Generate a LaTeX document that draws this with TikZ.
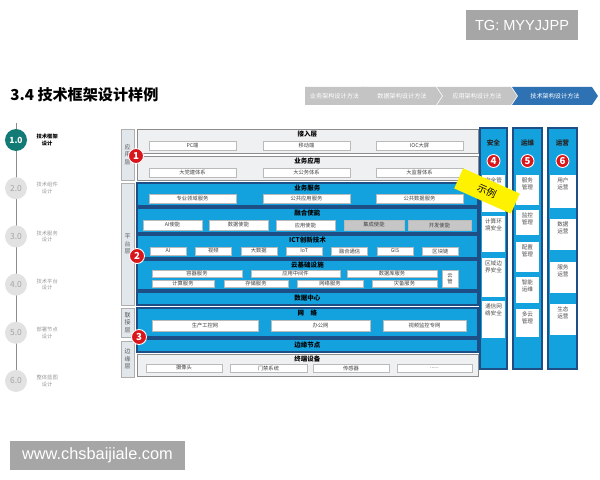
\documentclass[tikz,border=0pt]{standalone}
\usepackage{fontspec}
\setmainfont{Noto Sans CJK SC}
\newfontfamily\arialfont{Liberation Sans}
\usetikzlibrary{positioning,shapes.symbols}

\definecolor{bandblue}{HTML}{14A2DF}
\definecolor{edgeblue}{HTML}{1D4F86}
\definecolor{bandgray}{HTML}{EEF0F2}
\definecolor{edgegray}{HTML}{8C8C8C}
\definecolor{sidegray}{HTML}{E2E7EC}
\definecolor{boxgray}{HTML}{C6C6C6}
\definecolor{markred}{HTML}{D9161C}
\definecolor{tealstep}{HTML}{137B75}
\definecolor{stepgray}{HTML}{E2E2E2}
\definecolor{crumbgray}{HTML}{C4C4C4}
\definecolor{crumbblue}{HTML}{2F72B3}
\definecolor{markgray}{HTML}{A6A6A6}

\def\px{0.02cm}
% box from (x1,y1) to (x2,y2) in pixels
\newcommand{\rbox}[7]{\node[#2, minimum width={(#5-#3)*\px}, minimum height={(#6-#4)*\px}] (#1) at ({(#3+#5)/2},{(#4+#6)/2}) {#7};}

\tikzset{
  markbox/.style={fill=markgray, text=white, inner sep=0pt},
  crumb/.style={signal, signal to=east, signal from=west, signal pointer angle=112,
    fill=crumbgray, text=white, inner sep=0pt, font=\fontsize{3.5}{3.8}\selectfont},
  timeline/.style={draw=black!45, line width=0.55pt},
  stepdot/.style={circle, fill=stepgray, text=black!35, inner sep=0pt,
    minimum size=22*\px, font=\fontsize{4.8}{5}\selectfont},
  steptext/.style={align=center, inner sep=0pt, text=black!40, font=\fontsize{3}{3.7}\selectfont},
  sidelabel/.style={draw=edgegray!70, fill=sidegray, inner sep=0pt, align=center,
    text=black!65, font=\fontsize{3.4}{4.2}\selectfont},
  grayband/.style={draw=edgegray, fill=bandgray, line width=0.45pt, inner sep=0pt},
  blueband/.style={draw=edgeblue, fill=bandblue, line width=0.6pt, inner sep=0pt},
  bandtitle/.style={anchor=north, inner sep=1pt, text=black, font=\bfseries\fontsize{3.7}{4}\selectfont},
  whitebox/.style={draw=edgegray!60, fill=white, line width=0.3pt, inner sep=0pt, align=center,
    text=black!75, font=\fontsize{3}{3.5}\selectfont},
  greybox/.style={whitebox, fill=boxgray},
  column/.style={draw=edgeblue, fill=bandblue, line width=0.6pt, inner sep=0pt},
  coltitle/.style={inner sep=0pt, text=black!85, font=\bfseries\fontsize{3.8}{4}\selectfont},
  colbox/.style={fill=white, inner sep=0pt},
  coltext/.style={anchor=north, align=center, inner sep=1.6pt, text=black!70, font=\fontsize{3.2}{3.9}\selectfont},
  redmark/.style={circle, fill=markred, draw=white, line width=0.5pt, inner sep=0pt,
    minimum size=15*\px, text=white, font=\bfseries\fontsize{5.5}{6}\selectfont},
  banner/.style={fill=yellow, inner sep=0pt, minimum width=62*\px, minimum height=22*\px,
    font=\fontsize{5.6}{6}\selectfont}
}

\begin{document}
\begin{tikzpicture}[x=0.02cm,y=-0.02cm]
\useasboundingbox[fill=white] (0,0) rectangle (600,480);

% header
\rbox{tg}{markbox, font=\arialfont\fontsize{8.3}{9}\selectfont}{466}{10}{578}{40}{TG: MYYJJPP}
\node[anchor=west, inner sep=0pt, font=\bfseries\fontsize{8.6}{10}\selectfont] (title) at (10,95) {3.4 技术框架设计样例};
\rbox{crumb1}{crumb, signal from=nowhere}{302}{87}{367}{105}{业务架构设计方法}
\rbox{crumb2}{crumb}{362}{87}{442}{105}{数据架构设计方法}
\rbox{crumb3}{crumb}{437}{87}{517}{105}{应用架构设计方法}
\rbox{crumb4}{crumb, fill=crumbblue}{512}{87}{598}{105}{技术架构设计方法}

% steps
\coordinate (tltop) at (16,123);
\coordinate (tlbot) at (16,392);
\draw[timeline] (tltop) -- (tlbot);
\node[stepdot, fill=tealstep, text=white, font=\bfseries\fontsize{4.8}{5}\selectfont] (s1) at (16,140) {1.0};
\node[stepdot, below=0.51cm of s1] (s2) {2.0};
\node[stepdot, below=0.51cm of s2] (s3) {3.0};
\node[stepdot, below=0.51cm of s3] (s4) {4.0};
\node[stepdot, below=0.51cm of s4] (s5) {5.0};
\node[stepdot, below=0.51cm of s5] (s6) {6.0};
\node[steptext, text=black, font=\bfseries\fontsize{3}{3.7}\selectfont, right=0.18cm of s1] (s1t) {技术框架\\设计};
\node[steptext, right=0.18cm of s2] (s2t) {技术组件\\设计};
\node[steptext, right=0.18cm of s3] (s3t) {技术服务\\设计};
\node[steptext, right=0.18cm of s4] (s4t) {技术平台\\设计};
\node[steptext, right=0.18cm of s5] (s5t) {部署节点\\设计};
\node[steptext, right=0.18cm of s6] (s6t) {整体蓝图\\设计};

% layer labels
\rbox{lapp}{sidelabel}{121}{129}{134}{180}{应\\用\\层}
\rbox{lplat}{sidelabel}{121}{183}{134}{305}{平\\台\\层}
\rbox{llink}{sidelabel}{121}{308}{134}{337}{联\\接\\层}
\rbox{ledge}{sidelabel}{121}{341}{134}{377}{边\\缘\\层}

% application layer
\rbox{access}{grayband, label={[bandtitle]north:接入层}}{137}{129}{478}{153}{}
\rbox{pc}{whitebox}{149}{141}{236}{150}{PC端}
\rbox{mobile}{whitebox}{263}{141}{350}{150}{移动端}
\rbox{ioc}{whitebox}{376}{141}{463}{150}{IOC大屏}
\rbox{bizapp}{grayband, label={[bandtitle]north:业务应用}}{137}{156}{478}{180}{}
\rbox{party}{whitebox}{149}{168}{236}{177}{大党建体系}
\rbox{affair}{whitebox}{263}{168}{350}{177}{大公务体系}
\rbox{super}{whitebox}{376}{168}{463}{177}{大监督体系}

% platform layer
\rbox{bizsvc}{blueband, label={[bandtitle]north:业务服务}}{137}{183}{478}{206}{}
\rbox{domain}{whitebox}{149}{194}{236}{203}{专业领域服务}
\rbox{pubapp}{whitebox}{263}{194}{350}{203}{公共应用服务}
\rbox{pubdata}{whitebox}{376}{194}{463}{203}{公共数据服务}
\rbox{enable}{blueband, label={[bandtitle]north:融合使能}}{137}{208}{478}{233}{}
\rbox{aien}{whitebox}{143}{220}{202}{230}{AI使能}
\rbox{dataen}{whitebox}{209}{220}{268}{230}{数据使能}
\rbox{appen}{whitebox}{276}{220}{335}{230}{应用使能}
\rbox{inten}{greybox}{344}{220}{404}{230}{集成使能}
\rbox{deven}{greybox}{408}{220}{471}{230}{开发使能}
\rbox{ict}{blueband, label={[bandtitle]north:ICT创新技术}}{137}{235}{478}{258}{}
\foreach \t [count=\i] in {AI,视频,大数据,IoT,融合通信,GIS,区块链}{
  \pgfmathsetmacro\xa{150+(\i-1)*45.4}
  \rbox{ict\i}{whitebox}{\xa}{247}{\xa+36}{255}{\t}
}
\rbox{cloud}{blueband, label={[bandtitle]north:云基础设施}}{137}{260}{478}{290}{}
\rbox{container}{whitebox}{152}{270}{242}{277}{容器服务}
\rbox{middle}{whitebox}{251}{270}{340}{277}{应用中间件}
\rbox{dbsvc}{whitebox}{347}{270}{437}{277}{数据库服务}
\rbox{compute}{whitebox}{152}{280}{214}{287}{计算服务}
\rbox{storage}{whitebox}{224}{280}{288}{287}{存储服务}
\rbox{network}{whitebox}{297}{280}{363}{287}{网络服务}
\rbox{backup}{whitebox}{372}{280}{437}{287}{灾备服务}
\rbox{cloudmgr}{whitebox}{442}{270}{458}{287}{云\\管}
\rbox{dc}{blueband, font=\bfseries\fontsize{3.7}{4}\selectfont}{137}{292}{478}{305}{数据中心}

% link and edge layer
\rbox{net}{blueband, label={[bandtitle]north:网\quad 络}}{137}{308}{478}{337}{}
\rbox{prodnet}{whitebox}{152}{320}{258}{331}{生产工控网}
\rbox{officenet}{whitebox}{271}{320}{370}{331}{办公网}
\rbox{videonet}{whitebox}{383}{320}{466}{331}{视频监控专网}
\rbox{edgenode}{blueband, font=\bfseries\fontsize{3.7}{4}\selectfont}{137}{339}{478}{352}{边缘节点}
\rbox{term}{grayband, label={[bandtitle]north:终端设备}}{137}{354}{478}{376}{}
\rbox{camera}{whitebox}{146}{364}{222}{372}{摄像头}
\rbox{door}{whitebox}{230}{364}{307}{372}{门禁系统}
\rbox{sensor}{whitebox}{313}{364}{389}{372}{传感器}
\rbox{more}{whitebox}{397}{364}{472}{372}{......}

\node[redmark] (m1) at (136,156) {1};
\node[redmark] (m2) at (137,256) {2};
\node[redmark] (m3) at (139,337) {3};

% side columns
\rbox{sec}{column}{480}{128}{507}{369}{}
\rbox{ops}{column}{513}{128}{542}{369}{}
\rbox{opr}{column}{548}{128}{577}{369}{}
\node[coltitle] (sect) at (493.5,143) {安全};
\node[coltitle] (opst) at (527.5,143) {运维};
\node[coltitle] (oprt) at (562.5,143) {运营};
\node[redmark, minimum size=13*\px] (m4) at (493.5,161) {4};
\node[redmark, minimum size=13*\px] (m5) at (527.5,161) {5};
\node[redmark, minimum size=13*\px] (m6) at (562.5,161) {6};

\rbox{sec1}{colbox, label={[coltext]north:{安全管\\理中心}}}{482}{175}{505}{212}{}
\rbox{sec2}{colbox, label={[coltext]north:{计算环\\境安全}}}{482}{216}{505}{252}{}
\rbox{sec3}{colbox, label={[coltext]north:{区域边\\界安全}}}{482}{258}{505}{297}{}
\rbox{sec4}{colbox, label={[coltext]north:{通信网\\络安全}}}{482}{301}{505}{338}{}

\rbox{ops1}{colbox, label={[coltext]north:{服务\\管理}}}{516}{175}{539}{205}{}
\rbox{ops2}{colbox, label={[coltext]north:{监控\\管理}}}{516}{210}{539}{235}{}
\rbox{ops3}{colbox, label={[coltext]north:{配置\\管理}}}{516}{242}{539}{272}{}
\rbox{ops4}{colbox, label={[coltext]north:{智能\\运维}}}{516}{277}{539}{303}{}
\rbox{ops5}{colbox, label={[coltext]north:{多云\\管理}}}{516}{309}{539}{337}{}

\rbox{opr1}{colbox, label={[coltext]north:{用户\\运营}}}{550}{175}{576}{208}{}
\rbox{opr2}{colbox, label={[coltext]north:{数据\\运营}}}{550}{219}{576}{250}{}
\rbox{opr3}{colbox, label={[coltext]north:{服务\\运营}}}{550}{262}{576}{293}{}
\rbox{opr4}{colbox, label={[coltext]north:{生态\\运营}}}{550}{304}{576}{335}{}

\node[banner, rotate=-24] (demo) at (487,191) {示例};

% footer
\rbox{site}{markbox, font=\arialfont\fontsize{9.3}{10}\selectfont}{10}{441}{185}{470}{www.chsbaijiale.com}
\end{tikzpicture}
\end{document}
